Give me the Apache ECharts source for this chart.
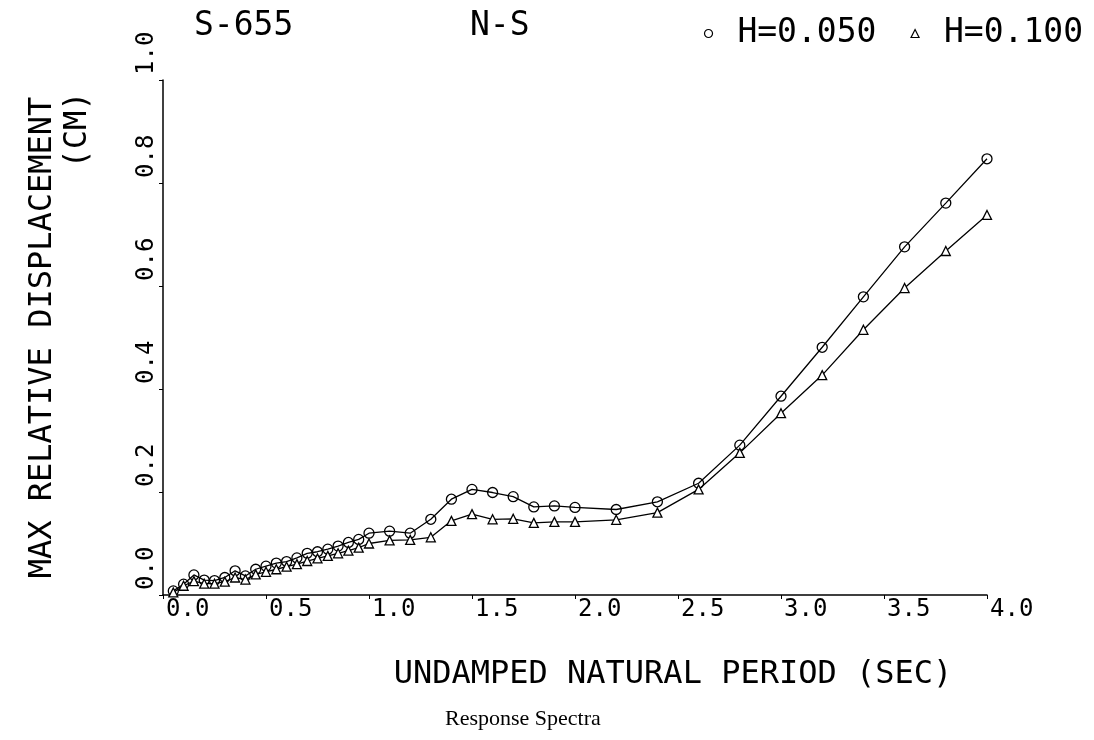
<!DOCTYPE html>
<html>
<head>
    <meta charset="utf-8">
    <title>Response Spectra</title>
    <style>
        body { margin: 0; background: #fff; }
    </style>
</head>
<body>
    <div id="main" style="width: 1094px;height:740px;"></div>
</body>
<script src="https://cdn.jsdelivr.net/npm/echarts@6/dist/echarts.min.js"></script>
<script>
// undamped natural period (sec)
var periods = [0.05, 0.10, 0.15, 0.20, 0.25, 0.30, 0.35, 0.40, 0.45, 0.50,
    0.55, 0.60, 0.65, 0.70, 0.75, 0.80, 0.85, 0.90, 0.95, 1.00,
    1.1, 1.2, 1.3, 1.4, 1.5, 1.6, 1.7, 1.8, 1.9, 2.0,
    2.2, 2.4, 2.6, 2.8, 3.0, 3.2, 3.4, 3.6, 3.8, 4.0];
// max relative displacement (cm), H=0.050
var dispH050 = [0.008, 0.021, 0.039, 0.029, 0.028, 0.034, 0.047, 0.037, 0.050, 0.056,
    0.062, 0.065, 0.072, 0.081, 0.084, 0.089, 0.095, 0.102, 0.108, 0.120,
    0.124, 0.120, 0.147, 0.186, 0.205, 0.199, 0.191, 0.171, 0.173, 0.170,
    0.166, 0.181, 0.217, 0.291, 0.386, 0.481, 0.579, 0.676, 0.761, 0.847];
// H=0.100
var dispH100 = [0.005, 0.018, 0.027, 0.022, 0.022, 0.026, 0.034, 0.030, 0.040, 0.045,
    0.050, 0.055, 0.060, 0.066, 0.071, 0.076, 0.081, 0.086, 0.092, 0.100,
    0.106, 0.107, 0.112, 0.144, 0.157, 0.147, 0.148, 0.140, 0.142, 0.142,
    0.146, 0.160, 0.205, 0.276, 0.353, 0.427, 0.515, 0.596, 0.668, 0.738];
var xTicks = [0, 0.5, 1, 1.5, 2, 2.5, 3, 3.5, 4];
var yTicks = [0, 0.2, 0.4, 0.6, 0.8, 1.0];

var plotFont = 'DejaVu Sans Mono';

function pairs(xs, ys) {
    var out = [];
    for (var i = 0; i < xs.length; i++) out.push([xs[i], ys[i]]);
    return out;
}

var myChart = echarts.init(document.getElementById('main'));

myChart.setOption({
    backgroundColor: '#fff',
    animation: false,
    title: [
        { text: 'S-655', left: 189, top: 5, textStyle: { fontFamily: plotFont, fontSize: 33, fontWeight: 'normal', color: '#000' } },
        { text: 'N-S', left: 465, top: 5, textStyle: { fontFamily: plotFont, fontSize: 33, fontWeight: 'normal', color: '#000' } },
        { text: 'Response Spectra', left: 440, top: 703, textStyle: { fontFamily: 'Liberation Serif', fontSize: 22, fontWeight: 'normal', color: '#000' } }
    ],
    legend: {
        right: 6,
        top: 12,
        itemWidth: 8,
        itemHeight: 8,
        itemGap: 34,
        formatter: ' {name}',
        itemStyle: { color: '#fff', borderColor: '#000', borderWidth: 1.2 },
        textStyle: { fontFamily: plotFont, fontSize: 33, color: '#000' },
        data: [
            { name: 'H=0.050', icon: 'circle' },
            { name: 'H=0.100', icon: 'triangle' }
        ]
    },
    grid: {
        left: 163,
        right: 107,
        top: 80,
        bottom: 145,
        containLabel: false
    },
    xAxis: {
        type: 'value',
        min: 0,
        max: 4,
        interval: 0.5,
        name: 'UNDAMPED NATURAL PERIOD (SEC)',
        nameLocation: 'middle',
        nameGap: 64,
        nameTextStyle: { fontFamily: plotFont, fontSize: 32, color: '#000', padding: [0, 0, 0, 196] },
        axisLine: { lineStyle: { color: '#000', width: 1.5 } },
        axisTick: { show: true, length: 4, lineStyle: { color: '#000' } },
        splitLine: { show: false },
        axisLabel: {
            align: 'left',
            margin: 3,
            fontFamily: plotFont,
            fontSize: 24,
            color: '#000',
            padding: [0, 0, 0, 3],
            formatter: function (v) { return v.toFixed(1); }
        }
    },
    yAxis: {
        type: 'value',
        min: 0,
        max: 1,
        interval: 0.2,
        name: 'MAX RELATIVE DISPLACEMENT',
        nameLocation: 'middle',
        nameRotate: 90,
        nameGap: 104,
        nameTextStyle: { fontFamily: plotFont, fontSize: 32, color: '#000' },
        axisLine: { show: true, lineStyle: { color: '#000', width: 1.5 } },
        axisTick: { show: true, length: 4, lineStyle: { color: '#000' } },
        splitLine: { show: false },
        axisLabel: {
            rotate: 90,
            align: 'left',
            verticalAlign: 'middle',
            margin: 16,
            fontFamily: plotFont,
            fontSize: 24,
            color: '#000',
            padding: [0, 0, 0, 5],
            formatter: function (v) { return v.toFixed(1); }
        }
    },
    graphic: [
        {
            type: 'text',
            x: 78,
            y: 130,
            rotation: Math.PI / 2,
            style: {
                text: '(CM)',
                fontFamily: plotFont,
                fontSize: 32,
                fill: '#000',
                align: 'center',
                verticalAlign: 'middle'
            }
        }
    ],
    series: [
        {
            name: 'H=0.050',
            type: 'line',
            data: pairs(periods, dispH050),
            symbol: 'circle',
            symbolSize: 10,
            lineStyle: { color: '#000', width: 1.3 },
            itemStyle: { color: 'rgba(0,0,0,0)', borderColor: '#000', borderWidth: 1.3 }
        },
        {
            name: 'H=0.100',
            type: 'line',
            data: pairs(periods, dispH100),
            symbol: 'triangle',
            symbolSize: 9,
            lineStyle: { color: '#000', width: 1.3 },
            itemStyle: { color: '#fff', borderColor: '#000', borderWidth: 1.3 }
        }
    ]
});
</script>
</html>
